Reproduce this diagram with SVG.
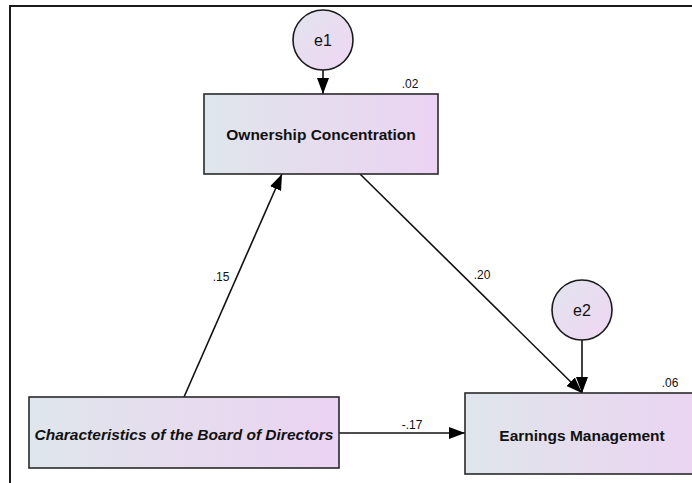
<svg xmlns="http://www.w3.org/2000/svg" width="692" height="483" viewBox="0 0 692 483">
<defs>
<linearGradient id="boxg" x1="0" y1="0" x2="1" y2="0">
<stop offset="0" stop-color="#dfe6ec"/>
<stop offset="0.5" stop-color="#e6dcee"/>
<stop offset="1" stop-color="#ebd3f3"/>
</linearGradient>
<linearGradient id="circg" x1="0" y1="0" x2="1" y2="1">
<stop offset="0" stop-color="#e2e4ee"/>
<stop offset="1" stop-color="#efd6f3"/>
</linearGradient>
<marker id="arr" viewBox="0 0 16 12" refX="16" refY="6" markerWidth="16" markerHeight="12" markerUnits="userSpaceOnUse" orient="auto">
<path d="M0,0 L16,6 L0,12 Z" fill="#000"/>
</marker>
<style>
.box{fill:url(#boxg);stroke:#2a2a2a;stroke-width:1.6}
.circ{fill:url(#circg);stroke:#1a1a1a;stroke-width:1.6}
.lbl{font-family:"Liberation Sans",Arial,sans-serif;font-size:15.5px;font-weight:bold;fill:#111;text-anchor:middle}
.it{font-style:italic}
.ev{font-family:"Liberation Sans",Arial,sans-serif;font-size:16px;fill:#111;text-anchor:middle}
.num{font-family:"Liberation Sans",Arial,sans-serif;font-size:12px;fill:#111;text-anchor:middle}
.edge{stroke:#111;stroke-width:1.6;fill:none;marker-end:url(#arr)}
</style>
</defs>
<rect width="692" height="483" fill="#fff"/>
<path d="M10,483 L10,6 L692,6" fill="none" stroke="#1a1a1a" stroke-width="2"/>
<g id="connectors">
<line class="edge" x1="323" y1="70" x2="323" y2="94"/>
<line class="edge" x1="582" y1="340" x2="582" y2="393"/>
<line class="edge" x1="184" y1="397" x2="282" y2="174"/>
<line class="edge" x1="360" y1="174" x2="582" y2="393"/>
<line class="edge" x1="339" y1="433" x2="465" y2="433"/>
<text class="num" x="221" y="281">.15</text>
<text class="num" x="482" y="279">.20</text>
<text class="num" x="412" y="429">-.17</text>
</g>
<g id="e1">
<circle class="circ" cx="323" cy="40" r="30"/>
<text class="ev" x="323" y="46">e1</text>
</g>
<g id="e2">
<circle class="circ" cx="582" cy="310" r="30"/>
<text class="ev" x="582" y="316">e2</text>
</g>
<g id="ownership">
<rect class="box" x="204" y="94" width="234" height="80"/>
<text class="lbl" x="321" y="140">Ownership Concentration</text>
<text class="num" x="410" y="88">.02</text>
</g>
<g id="board">
<rect class="box" x="29" y="397" width="310" height="71"/>
<text class="lbl it" x="184" y="440">Characteristics of the Board of Directors</text>
</g>
<g id="earnings">
<rect class="box" x="465" y="393" width="245" height="81"/>
<text class="lbl" x="582" y="441">Earnings Management</text>
<text class="num" x="670" y="387">.06</text>
</g>
</svg>
